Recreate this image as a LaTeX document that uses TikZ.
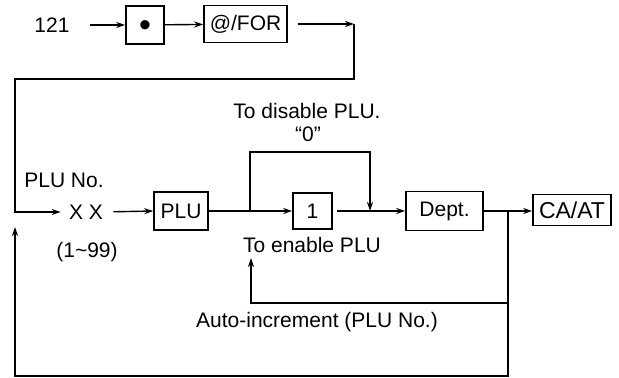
\documentclass[tikz,border=0pt]{standalone}
\usepackage{fontspec}
\setmainfont{Liberation Sans}
\usetikzlibrary{arrows.meta}
\begin{document}
\begin{tikzpicture}[x=0.5pt,y=-0.5pt,
  key/.style={draw, line width=0.8pt, inner sep=0pt, font=\fontsize{10.5}{12}\selectfont},
  lbl/.style={inner sep=0pt, font=\fontsize{10.5}{12}\selectfont},
  conn/.style={line width=0.7pt},
  arr/.style={conn, -{Stealth[length=4.5pt,width=3pt]}},
]
\useasboundingbox (0,0) rectangle (619,378);
\fill[white] (0,0) rectangle (619,378);

% top row
\node[lbl] (n121) at (52,25) {121};
\node[key, minimum width=19pt, minimum height=19pt, font=\fontsize{17}{17}\selectfont] (dot) at (145,25) {\raisebox{-6pt}[0pt][0pt]{\textbullet}};
\node[key, minimum width=41.5pt, minimum height=18.5pt] (for) at (245.5,24) {@/FOR};
\coordinate (c1) at (354,24);
\coordinate (c2) at (354,79);
\coordinate (c3) at (15,79);

% main row
\node[lbl] (pluno) at (64,180) {PLU No.};
\node[lbl] (xx) at (86,212) {X X};
\node[lbl] (range) at (87,252) {(1\textasciitilde 99)};
\node[key, minimum width=27pt, minimum height=19pt] (plu) at (181,211) {PLU};
\node[key, minimum width=19.5pt, minimum height=18pt] (one) at (312.5,211) {1};
\node[key, minimum width=38.5pt, minimum height=19.5pt] (dept) at (444.5,211) {Dept.};
\node[key, minimum width=39pt, minimum height=15.5pt, font=\fontsize{11.5}{12}\selectfont] (caat) at (572,210) {CA/AT};

\node[lbl] (dis) at (307,111) {To disable PLU.};
\node[lbl] (zero) at (308,134) {``0''};
\node[lbl] (ena) at (312,245) {To enable PLU};
\node[lbl] (auto) at (317,322) {Auto-increment (PLU No.)};

% coordinates for connectors
\coordinate (br) at (250,211);
\coordinate (bt1) at (250,152);
\coordinate (bt2) at (370,152);
\coordinate (bj) at (370,211);
\coordinate (r0) at (508,211);
\coordinate (r1) at (508,303);
\coordinate (r2) at (251,303);
\coordinate (r3) at (251,258);
\coordinate (rb) at (508,376);
\coordinate (lb) at (15,376);
\coordinate (up1) at (15,227);

% connectors
\draw[arr, shorten <=10pt] (n121.east) -- (dot.west);
\draw[arr] (dot) -- (for);
\draw[arr, shorten <=5pt] (for.east) -- (c1);
\draw[arr, shorten >=4pt] (c1) -- (c2) -- (c3) |- (xx.west);
\draw[arr, shorten <=5pt] (xx.east) -- (plu.west);
\draw[arr] (plu) -- (one);
\draw[arr] (br) -- (bt1) -- (bt2) -- (bj);
\draw[arr, shorten <=2pt] (one) -- (dept);
\draw[arr] (dept.east) -- (caat.west |- dept.east);
\draw[arr] (r0) -- (r1) -- (r2) -- (r3);
\draw[arr] (r1) -- (rb) -- (lb) -- (up1);
\end{tikzpicture}
\end{document}
